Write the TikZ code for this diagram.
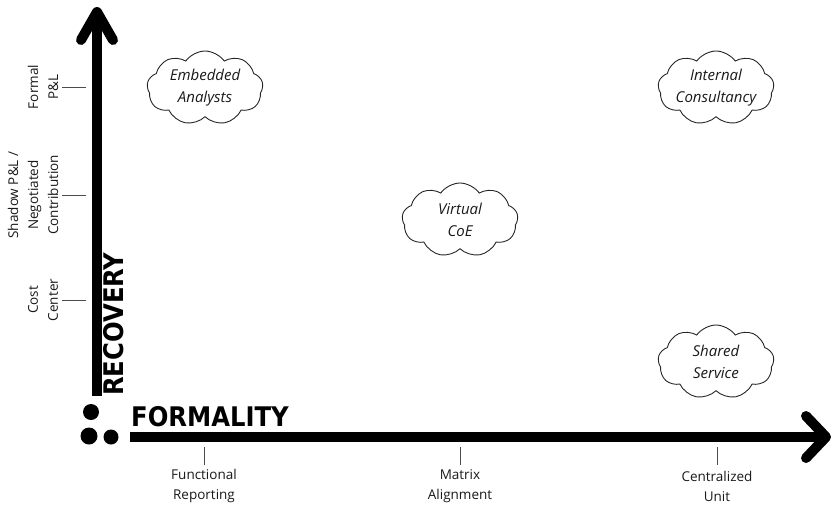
\documentclass[tikz,border=0pt]{standalone}
\usepackage{fontspec}
\setmainfont{Open Sans}
\newfontfamily\axisfont{DejaVu Sans Condensed}[BoldFont={DejaVu Sans Condensed Bold}]
\usetikzlibrary{shapes.symbols}
\begin{document}
\begin{tikzpicture}[x=1pt,y=-1pt,
  axisline/.style={line width=10pt,black},
  chevron/.style={line width=10pt,line cap=round,line join=round},
  tickmark/.style={draw=black!70,line width=0.8pt},
  ticklabel/.style={font=\fontsize{13.5}{20}\selectfont,align=center,text=black!90,inner sep=1pt},
  bubble/.style={cloud,draw=black!85,line width=0.9pt,cloud puffs=9,cloud puff arc=110,
     cloud ignores aspect,minimum width=116pt,minimum height=74pt,inner sep=0pt},
  bubbletext/.style={font=\itshape\fontsize{15}{22}\selectfont,align=center,text=black!90},
  axistitle/.style={font=\axisfont\bfseries\fontsize{27}{27}\selectfont,inner sep=0pt}]
\useasboundingbox (0,0) rectangle (834,507);

% axes
\coordinate (ytop) at (97,12);
\coordinate (ybase) at (97,396);
\coordinate (xstart) at (130,437);
\coordinate (xtip) at (826,437);
\draw[axisline] (ybase) -- (ytop);
\draw[chevron] (81,40) -- (ytop) -- (113,40);
\draw[axisline] (xstart) -- (xtip);
\draw[chevron] (806,416) -- (xtip) -- (806,458);

% dots in the corner
\fill (91,412) circle (8pt);
\fill (89,436) circle (8.5pt);
\fill (111,437) circle (7.5pt);

% axis titles
\node[axistitle,rotate=90,anchor=south west] (rec) at (124,396) {RECOVERY};
\node[axistitle,anchor=south west] (form) at (131,427) {FORMALITY};

% ticks on the recovery axis
\coordinate (yt1) at (86,87);
\coordinate (yt2) at (86,195);
\coordinate (yt3) at (86,300);
\foreach \t in {yt1,yt2,yt3} \draw[tickmark] (\t) -- ++(-24,0);
\node[ticklabel,rotate=90] (formal) at (43,87) {Formal\\P\&L};
\node[ticklabel,rotate=90] (shadow) at (33,195) {Shadow P\&L /\\Negotiated\\Contribution};
\node[ticklabel,rotate=90] (cost) at (43,300) {Cost\\Center};

% ticks on the formality axis
\coordinate (xt1) at (204,447);
\coordinate (xt2) at (460,447);
\coordinate (xt3) at (717,447);
\foreach \t in {xt1,xt2,xt3} \draw[tickmark] (\t) -- ++(0,18);
\node[ticklabel] (func) at (204,486) {Functional\\Reporting};
\node[ticklabel] (matrix) at (460,486) {Matrix\\Alignment};
\node[ticklabel] (central) at (717,486) {Centralized\\Unit};

% organisational models
\node[bubble] (emb) at (205,88) {};
\node[bubbletext] at (emb) {Embedded\\Analysts};
\node[bubble] (int) at (716,88) {};
\node[bubbletext] at (int) {Internal\\Consultancy};
\node[bubble] (coe) at (460,220) {};
\node[bubbletext] at (coe) {Virtual\\CoE};
\node[bubble] (shared) at (716,362) {};
\node[bubbletext] at (shared) {Shared\\Service};
\end{tikzpicture}
\end{document}
